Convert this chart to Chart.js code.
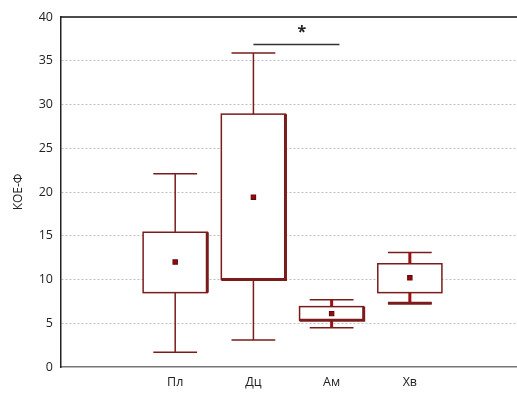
<!DOCTYPE html>
<html>
<head>
<meta charset="utf-8">
<script src="https://cdn.jsdelivr.net/npm/chart.js"></script>
<style>
html,body{margin:0;padding:0;background:#fff;}
canvas{display:block;}
</style>
</head>
<body>
<canvas id="c" width="517" height="396"></canvas>
<script>
const categories = ['Пл', 'Дц', 'Ам', 'Хв'];
const whiskerLow = [1.7, 3.1, 4.5, 7.3];
const q1 = [8.5, 10.0, 5.35, 8.5];
const q3 = [15.4, 28.9, 6.9, 11.8];
const whiskerHigh = [22.1, 35.9, 7.7, 13.1];
const means = [12.0, 19.4, 6.1, 10.2];
const yTicks = [0, 5, 10, 15, 20, 25, 30, 35, 40];
const sigFrom = 2.0, sigTo = 3.1, sigLevel = 36.85, sigLabel = '*';

const BOX_HALF = 0.41, CAP_HALF = 0.28;
const lineColor = '#7a1c1c';
const stemColor = ['#7a1c1c', '#7a1c1c', '#a01010', '#a01010'];
const stemWidth = [1.5, 1.5, 3, 3];
const heavyEdge = [true, true, true, false];

const boxPlugin = {
  id: 'boxes',
  beforeDatasetsDraw(chart) {
    const {ctx, scales: {x, y}} = chart;
    ctx.save();
    ctx.strokeStyle = '#111'; ctx.lineWidth = 1.5; ctx.setLineDash([]);
    ctx.beginPath();
    ctx.moveTo(chart.chartArea.left, y.getPixelForValue(40));
    ctx.lineTo(chart.chartArea.right, y.getPixelForValue(40));
    ctx.stroke();
    categories.forEach((c, i) => {
      const xc = x.getPixelForValue(i + 1);
      const xl = x.getPixelForValue(i + 1 - BOX_HALF);
      const xr = x.getPixelForValue(i + 1 + BOX_HALF);
      const cl = x.getPixelForValue(i + 1 - CAP_HALF);
      const cr = x.getPixelForValue(i + 1 + CAP_HALF);
      const yLo = y.getPixelForValue(whiskerLow[i]);
      const yHi = y.getPixelForValue(whiskerHigh[i]);
      const yQ1 = y.getPixelForValue(q1[i]);
      const yQ3 = y.getPixelForValue(q3[i]);
      ctx.strokeStyle = stemColor[i]; ctx.lineWidth = stemWidth[i];
      ctx.beginPath();
      ctx.moveTo(xc, yHi); ctx.lineTo(xc, yQ3);
      ctx.moveTo(xc, yQ1); ctx.lineTo(xc, yLo);
      ctx.stroke();
      ctx.strokeStyle = lineColor; ctx.lineWidth = 1.5;
      ctx.beginPath();
      ctx.moveTo(cl, yHi); ctx.lineTo(cr, yHi);
      ctx.moveTo(cl, yLo); ctx.lineTo(cr, yLo);
      ctx.stroke();
      if (i === 3) {
        ctx.lineWidth = 3; ctx.beginPath();
        ctx.moveTo(cl, yLo); ctx.lineTo(cr, yLo); ctx.stroke();
      }
      ctx.fillStyle = '#fff';
      ctx.fillRect(xl, yQ3, xr - xl, yQ1 - yQ3);
      ctx.strokeStyle = lineColor; ctx.lineWidth = 1.5;
      ctx.strokeRect(xl, yQ3, xr - xl, yQ1 - yQ3);
      if (heavyEdge[i]) {
        ctx.lineWidth = 3;
        ctx.beginPath();
        ctx.moveTo(xr, yQ3); ctx.lineTo(xr, yQ1);
        if (i > 0) { ctx.lineTo(xl, yQ1); }
        ctx.stroke();
      }
    });
    ctx.strokeStyle = '#333'; ctx.lineWidth = 1.5;
    ctx.beginPath();
    ctx.moveTo(x.getPixelForValue(sigFrom), y.getPixelForValue(sigLevel));
    ctx.lineTo(x.getPixelForValue(sigTo), y.getPixelForValue(sigLevel));
    ctx.stroke();
    ctx.fillStyle = '#222';
    ctx.font = 'bold 16px "Open Sans"';
    ctx.textAlign = 'center'; ctx.textBaseline = 'middle';
    ctx.fillText(sigLabel, x.getPixelForValue((sigFrom + sigTo) / 2 + 0.07), y.getPixelForValue(sigLevel) - 12);
    ctx.restore();
  }
};

new Chart(document.getElementById('c'), {
  type: 'scatter',
  data: {
    datasets: [{
      data: means.map((m, i) => ({x: i + 1, y: m})),
      pointStyle: 'rect',
      pointRadius: 3,
      backgroundColor: '#b00000',
      borderColor: '#5a0e0e',
      borderWidth: 1.2
    }]
  },
  options: {
    responsive: false,
    animation: false,
    layout: {autoPadding: false, padding: {top: 17, right: 0, left: 0, bottom: 0}},
    plugins: {legend: {display: false}, tooltip: {enabled: false}},
    scales: {
      x: {
        type: 'linear',
        min: -0.46, max: 5.37,
        afterBuildTicks: s => { s.ticks = categories.map((c, i) => ({value: i + 1})); },
        afterFit: s => { s.height = 29; s.paddingLeft = 0; s.paddingRight = 0; },
        ticks: {
          callback: v => categories[v - 1] || '',
          font: {family: 'Open Sans', size: 12.5},
          color: '#222',
          padding: 8,
          maxRotation: 0
        },
        grid: {display: false, drawTicks: false},
        border: {display: true, color: '#777', width: 1.5}
      },
      y: {
        min: 0, max: 40,
        afterBuildTicks: s => { s.ticks = yTicks.map(v => ({value: v})); },
        afterFit: s => { s.width = 61; s.paddingTop = 0; s.paddingBottom = 0; },
        ticks: {
          font: {family: 'Open Sans', size: 12.5},
          color: '#222',
          padding: 8
        },
        grid: {
          drawTicks: false,
          color: ctx => (ctx.tick && (ctx.tick.value === 0 || ctx.tick.value === 40)) ? 'rgba(0,0,0,0)' : '#c0c0c0',
          lineWidth: 1
        },
        border: {display: true, color: '#222', width: 1.5, dash: [2, 2]},
        title: {
          display: true,
          text: 'КОЕ-Ф',
          font: {family: 'Open Sans', size: 12},
          color: '#222',
          padding: {top: 11, bottom: 0}
        }
      }
    }
  },
  plugins: [boxPlugin]
});
</script>
</body>
</html>
